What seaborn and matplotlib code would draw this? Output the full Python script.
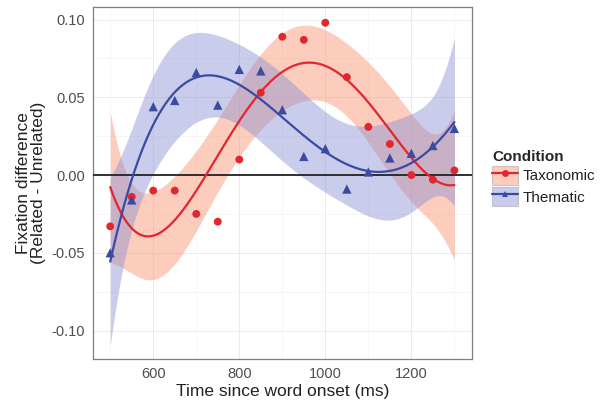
import numpy as np
import pandas as pd
import seaborn as sns
import matplotlib.pyplot as plt
from matplotlib.patches import Patch
from matplotlib.lines import Line2D

# values
time_ms = [500, 550, 600, 650, 700, 750, 800, 850, 900,
           950, 1000, 1050, 1100, 1150, 1200, 1250, 1300]
taxonomic = [-0.033, -0.014, -0.010, -0.010, -0.025, -0.030, 0.010, 0.053, 0.089,
             0.087, 0.098, 0.063, 0.031, 0.020, 0.000, -0.003, 0.003]
thematic = [-0.050, -0.016, 0.044, 0.048, 0.066, 0.045, 0.068, 0.067, 0.042,
            0.012, 0.017, -0.009, 0.002, 0.011, 0.014, 0.019, 0.030]
conditions = ["Taxonomic", "Thematic"]
# residual SD behind each confidence band (estimated from the band widths;
# the bands come from the raw trials, not from the plotted means)
band_sd = {"Taxonomic": 0.025, "Thematic": 0.028}

line_colors = {"Taxonomic": "#E3262E", "Thematic": "#3B4BA3"}
fill_colors = {"Taxonomic": "#F98E6E", "Thematic": "#898ED2"}
markers = {"Taxonomic": "o", "Thematic": "^"}

T_975_DF12 = 2.178813  # t quantile for n - 5 residual df


def poly_fit(x, y, grid, sd, deg=4):
    # least squares polynomial with a 95% confidence band (like lm(y ~ poly(x, 4)))
    x = np.asarray(x, float)
    y = np.asarray(y, float)
    c = x.mean()
    s = x.std()
    X = np.vander((x - c) / s, deg + 1)
    G = np.vander((grid - c) / s, deg + 1)
    beta, *_ = np.linalg.lstsq(X, y, rcond=None)
    cov = sd ** 2 * np.linalg.inv(X.T @ X)
    fit = G @ beta
    se = np.sqrt(np.einsum("ij,jk,ik->i", G, cov, G))
    return fit, fit - T_975_DF12 * se, fit + T_975_DF12 * se


df = pd.DataFrame({
    "time": time_ms * 2,
    "diff": taxonomic + thematic,
    "Condition": ["Taxonomic"] * len(time_ms) + ["Thematic"] * len(time_ms),
})

grid = np.linspace(min(time_ms), max(time_ms), 200)

sns.set_style("white")
plt.rcParams["font.family"] = ["Liberation Sans", "DejaVu Sans"]
plt.rcParams["axes.unicode_minus"] = False

fig = plt.figure(figsize=(6, 4.09), dpi=100)
ax = fig.add_axes([0.155, 0.122, 0.631, 0.860])

# bands first, then lines, then points
fits = {}
for cond in conditions:
    sub = df[df.Condition == cond]
    fit, lo, hi = poly_fit(sub.time.values, sub["diff"].values, grid, band_sd[cond])
    fits[cond] = fit
    ax.fill_between(grid, lo, hi, color=fill_colors[cond], alpha=0.45, lw=0, zorder=2)

ax.axhline(0, color="#222222", lw=1.3, zorder=3)

for cond in conditions:
    sns.lineplot(x=grid, y=fits[cond], color=line_colors[cond], lw=1.6, ax=ax, zorder=4)

for cond in conditions:
    sub = df[df.Condition == cond]
    sns.scatterplot(data=sub, x="time", y="diff", color=line_colors[cond],
                    marker=markers[cond], s=32 if cond == "Taxonomic" else 45,
                    edgecolor="none", ax=ax, zorder=5, legend=False)

ax.set_xlim(460, 1340)
ax.set_ylim(-0.1184, 0.1079)
ax.set_xticks([600, 800, 1000, 1200])
ax.set_xticks([500, 700, 900, 1100, 1300], minor=True)
ax.set_yticks([-0.10, -0.05, 0.00, 0.05, 0.10])
ax.set_yticks([-0.075, -0.025, 0.025, 0.075], minor=True)
ax.set_yticklabels(["-0.10", "-0.05", "0.00", "0.05", "0.10"])
ax.grid(True, which="major", color="#EBEBEB", lw=0.7, zorder=0)
ax.grid(True, which="minor", color="#F3F3F3", lw=0.5, zorder=0)
ax.set_axisbelow(True)
ax.tick_params(which="major", direction="out", length=4, width=0.9, color="#333333",
               labelsize=10.5, labelcolor="#4D4D4D", pad=2)
ax.tick_params(which="minor", length=0)
for s in ax.spines.values():
    s.set_color("#7F7F7F")
    s.set_linewidth(0.9)

ax.set_xlabel("Time since word onset (ms)", fontsize=12.5, color="#222222", labelpad=2)
ax.set_ylabel("Fixation difference\n(Related - Unrelated)", fontsize=12.5,
              color="#222222", labelpad=4, linespacing=1.0)

handles = []
for cond in conditions:
    patch = Patch(facecolor=fill_colors[cond], alpha=0.45, edgecolor="#999999", lw=0.8)
    line = Line2D([], [], color=line_colors[cond], lw=1.6, marker=markers[cond],
                  markersize=5, markeredgewidth=0)
    handles.append((patch, line))
leg = fig.legend(handles, conditions, title="Condition", loc="upper left",
                 bbox_to_anchor=(0.81, 0.648), frameon=False, fontsize=11,
                 title_fontproperties={"weight": "bold", "size": 11},
                 handlelength=1.7, handleheight=1.6, handletextpad=0.3,
                 labelspacing=0.1, borderaxespad=0, alignment="left")
for t in leg.get_texts():
    t.set_color("#222222")

fig.savefig("out.png", dpi=100)
